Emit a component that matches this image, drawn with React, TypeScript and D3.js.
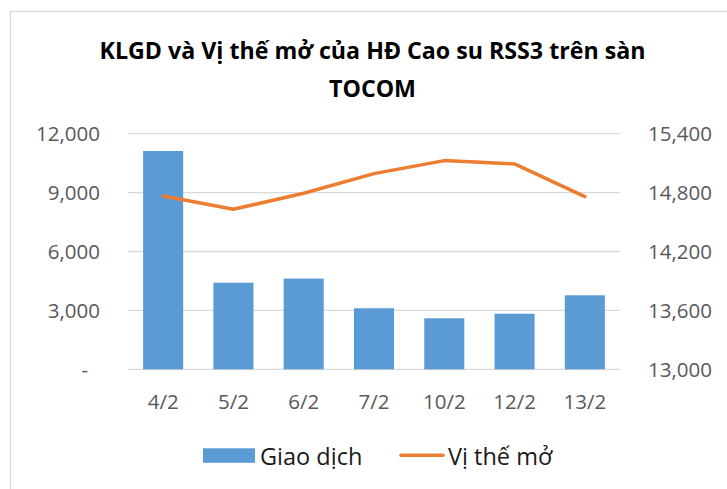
import React, { useEffect, useRef } from 'react';
import * as d3 from 'd3';

const categories = ['4/2', '5/2', '6/2', '7/2', '10/2', '12/2', '13/2'];
const volume = [11120, 4410, 4620, 3110, 2600, 2830, 3770];
const openInterest = [14766, 14630, 14793, 14993, 15126, 15092, 14759];
const leftTicks = [0, 3000, 6000, 9000, 12000];
const rightTicks = [13000, 13600, 14200, 14800, 15400];

const W = 727;
const H = 489;

const App = () => {
    const svgRef = useRef<SVGSVGElement | null>(null);

    useEffect(() => {
        if (!svgRef.current) return;
        const svg = d3.select(svgRef.current);
        svg.selectAll('*').remove();

        const plot = { left: 128, right: 620, top: 133.7, bottom: 369.3 };

        const x = d3.scaleBand<string>()
            .domain(categories)
            .range([plot.left, plot.right])
            .paddingInner(0.43)
            .paddingOuter(0.215);

        const yL = d3.scaleLinear().domain([0, 12000]).range([plot.bottom, plot.top]);
        const yR = d3.scaleLinear().domain([13000, 15400]).range([plot.bottom, plot.top]);

        // frame
        svg.append('rect')
            .attr('x', 10.5)
            .attr('y', 11.5)
            .attr('width', W + 20)
            .attr('height', H + 20)
            .attr('fill', '#fff')
            .attr('stroke', '#d9d9d9')
            .attr('stroke-width', 1.3);

        // title
        const title = svg.append('text')
            .attr('text-anchor', 'middle')
            .attr('fill', '#000')
            .style('font-family', '"Open Sans", sans-serif')
            .style('font-weight', '700')
            .style('font-size', '23.2px');
        title.append('tspan').attr('x', 372.5).attr('y', 58.5).text('KLGD và Vị thế mở của HĐ Cao su RSS3 trên sàn');
        title.append('tspan').attr('x', 372.5).attr('y', 96.5).text('TOCOM');

        // gridlines
        svg.append('g')
            .selectAll('line')
            .data(leftTicks)
            .join('line')
            .attr('x1', plot.left)
            .attr('x2', plot.right)
            .attr('y1', d => yL(d))
            .attr('y2', d => yL(d))
            .attr('stroke', '#d9d9d9')
            .attr('stroke-width', 1.3);

        const fmt = d3.format(',');
        const axisFont = (sel: any) => sel
            .attr('fill', '#595959')
            .style('font-family', '"Open Sans", sans-serif')
            .style('font-size', '20.5px');

        svg.append('g')
            .selectAll('text')
            .data(leftTicks)
            .join('text')
            .attr('x', d => (d === 0 ? 88 : 100))
            .attr('y', d => yL(d) + 7.5)
            .attr('text-anchor', 'end')
            .text(d => (d === 0 ? '-' : fmt(d)))
            .call(axisFont);

        svg.append('g')
            .selectAll('text')
            .data(rightTicks)
            .join('text')
            .attr('x', 648)
            .attr('y', d => yR(d) + 7.5)
            .text(d => fmt(d))
            .call(axisFont);

        svg.append('g')
            .selectAll('text')
            .data(categories)
            .join('text')
            .attr('x', d => (x(d) as number) + x.bandwidth() / 2)
            .attr('y', 409)
            .attr('text-anchor', 'middle')
            .text(d => d)
            .call(axisFont);

        // bars
        svg.append('g')
            .selectAll('rect')
            .data(volume)
            .join('rect')
            .attr('x', (d, i) => x(categories[i]) as number)
            .attr('y', d => yL(d))
            .attr('width', x.bandwidth())
            .attr('height', d => plot.bottom - yL(d))
            .attr('fill', '#5b9bd5');

        // line
        const line = d3.line<number>()
            .x((d, i) => (x(categories[i]) as number) + x.bandwidth() / 2)
            .y(d => yR(d));

        svg.append('path')
            .datum(openInterest)
            .attr('fill', 'none')
            .attr('stroke', '#ed7d31')
            .attr('stroke-width', 3.5)
            .attr('stroke-linecap', 'round')
            .attr('stroke-linejoin', 'round')
            .attr('d', line);

        // legend
        const legend = svg.append('g');
        legend.append('rect')
            .attr('x', 203)
            .attr('y', 448.3)
            .attr('width', 52)
            .attr('height', 14.5)
            .attr('fill', '#5b9bd5');
        legend.append('text')
            .attr('x', 260)
            .attr('y', 464.5)
            .text('Giao dịch')
            .attr('fill', '#1a1a1a')
            .style('font-family', '"Open Sans", sans-serif')
            .style('font-size', '23.5px');
        legend.append('line')
            .attr('x1', 401)
            .attr('x2', 443)
            .attr('y1', 455.3)
            .attr('y2', 455.3)
            .attr('stroke', '#ed7d31')
            .attr('stroke-width', 3.5)
            .attr('stroke-linecap', 'round');
        legend.append('text')
            .attr('x', 448)
            .attr('y', 464.5)
            .text('Vị thế mở')
            .attr('fill', '#1a1a1a')
            .style('font-family', '"Open Sans", sans-serif')
            .style('font-size', '23.5px');
    }, []);

    return (
        <div style={{ position: 'absolute', left: 0, top: 0, width: W, height: H, overflow: 'hidden', background: '#fff' }}>
            <svg ref={svgRef} width={W} height={H} style={{ display: 'block' }} />
        </div>
    );
};

export default App;
